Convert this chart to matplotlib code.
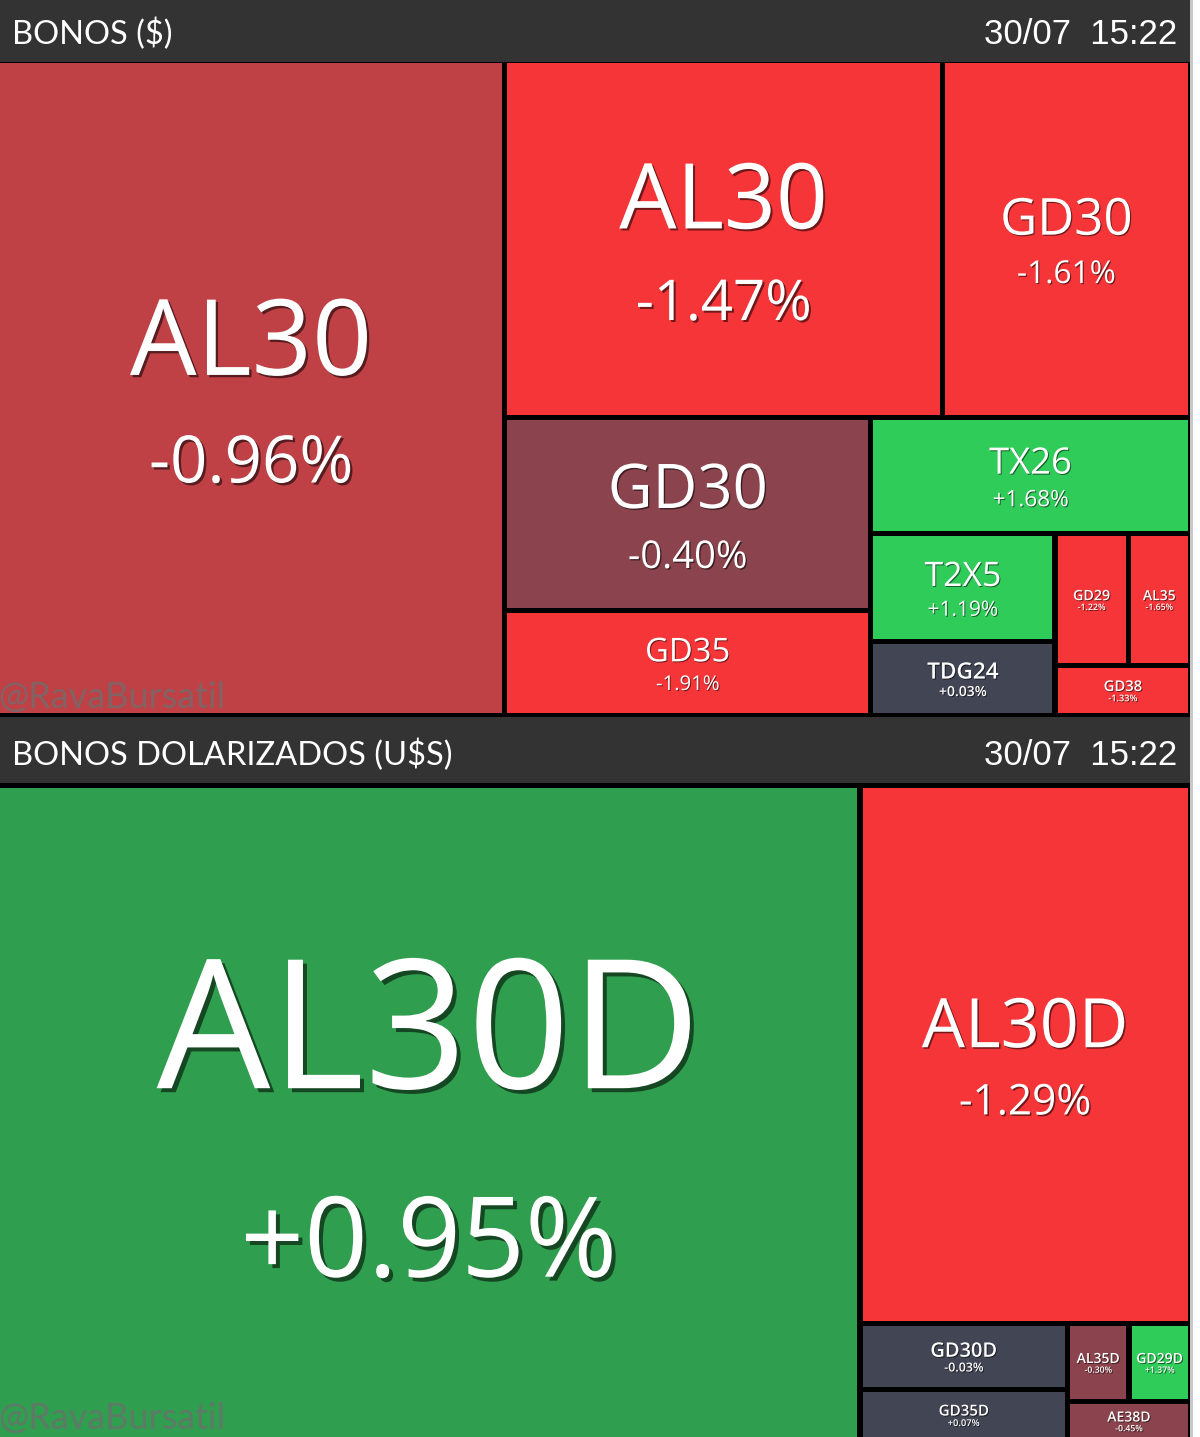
"""Treemap de bonos (Rava Bursatil) redibujado con matplotlib"""

import matplotlib.pyplot as plt
import matplotlib.patheffects as pe
from matplotlib.patches import Rectangle

# --- Datos -----------------------------------------------------------------
top_title = "BONOS ($)"
top_names = ["AL30", "AL30", "GD30", "GD30", "GD35", "TX26", "T2X5", "TDG24", "GD29", "AL35", "GD38"]
top_changes = [-0.96, -1.47, -1.61, -0.40, -1.91, 1.68, 1.19, 0.03, -1.22, -1.65, -1.33]
top_volume = [332.4, 156.4, 88.7, 70.5, 38.4, 37.1, 19.9, 13.6, 9.6, 8.2, 6.8]
top_strips = [1, 2, 2, 1, 2, 2, 1]

bottom_title = "BONOS DOLARIZADOS (U$S)"
bottom_names = ["AL30D", "AL30D", "GD30D", "GD35D", "AL35D", "GD29D", "AE38D"]
bottom_changes = [0.95, -1.29, -0.03, 0.07, -0.30, 1.37, -0.45]
bottom_volume = [564.9, 177.8, 13.7, 10.6, 4.8, 4.8, 4.8]
bottom_strips = [1, 1, 2, 2, 1]

stamp = "30/07  15:22"
watermark = "@RavaBursatil"

# escala de colores tipo finviz
RED3, RED2, RED1 = "#F63538", "#BF4045", "#8B444E"
GRN3, GRN2, GRN1 = "#30CC5A", "#2F9E4F", "#35764E"
NEUTRAL = "#414554"


def change_color(c):
    a = abs(c)
    if a < 0.1:
        return NEUTRAL
    if a < 0.5:
        return GRN1 if c > 0 else RED1
    if a < 1.0:
        return GRN2 if c > 0 else RED2
    return GRN3 if c > 0 else RED3


def strip_layout(weights, rect, strips):
    """Treemap por franjas alternadas: columna, fila, columna..."""
    x0, y0, x1, y1 = rect
    cells = []
    i = 0
    vertical = True
    for n in strips:
        group = weights[i:i + n]
        frac = sum(group) / sum(weights[i:])
        if vertical:
            sw = (x1 - x0) * frac
            yy = y0
            for g in group:
                hh = (y1 - y0) * g / sum(group)
                cells.append((x0, yy, x0 + sw, yy + hh))
                yy += hh
            x0 += sw
        else:
            sh = (y1 - y0) * frac
            xx = x0
            for g in group:
                ww = (x1 - x0) * g / sum(group)
                cells.append((xx, y0, xx + ww, y0 + sh))
                xx += ww
            y0 += sh
        i += n
        vertical = not vertical
    return cells


fig = plt.figure(figsize=(12, 14.37), dpi=100, facecolor="white")
ax = fig.add_axes([0, 0, 1, 1])
ax.set_xlim(0, 1200)
ax.set_ylim(1437, 0)
ax.axis("off")

ax.add_patch(Rectangle((0, 0), 1190, 1437, facecolor="black", linewidth=0, zorder=0))
ax.add_patch(Rectangle((1190, 0), 3, 1437, facecolor="#c8c8c8", linewidth=0, zorder=0))

GAP = 2.6


def draw_panel(title, names, changes, volume, strips, header_y, rect):
    ax.add_patch(Rectangle((0, header_y[0]), 1190, header_y[1] - header_y[0],
                           facecolor="#333333", linewidth=0, zorder=1))
    base = header_y[1] - 18
    ax.text(12, base, title, family="Lato", fontsize=23.5, color="white",
            va="baseline", ha="left", zorder=5)
    ax.text(1177, base, stamp, family="Liberation Sans", fontsize=25, color="white",
            va="baseline", ha="right", zorder=5)

    cells = strip_layout(volume, rect, strips)
    for (cx0, cy0, cx1, cy1), name, ch in zip(cells, names, changes):
        cx0, cy0, cx1, cy1 = cx0 + GAP, cy0 + GAP, cx1 - GAP, cy1 - GAP
        w, h = cx1 - cx0, cy1 - cy0
        ax.add_patch(Rectangle((cx0, cy0), w, h, facecolor=change_color(ch),
                               linewidth=0, zorder=2))
        # tamaño de letra segun la celda
        C = max(min(0.15 * w, 0.235 * h), 10)
        P = max(0.62 * C, 5.5)
        G = max(0.9 * C - 7, 0.35 * C)
        top = (cy0 + cy1) / 2 - (C + G + P) / 2 + 0.04 * C
        xc = (cx0 + cx1) / 2
        sh = max(0.7, C / 45)
        effects = [pe.SimplePatchShadow(offset=(sh, -sh), shadow_rgbFace="black", alpha=0.55),
                   pe.Normal()]
        weight = "semibold" if C < 20 else "normal"
        ax.text(xc, top + C, name, family="Open Sans", fontsize=C * 1.008,
                weight=weight, color="white", ha="center", va="baseline",
                zorder=4, path_effects=effects)
        ax.text(xc, top + C + G + P, f"{ch:+.2f}%", family="Open Sans",
                fontsize=P * 1.008, weight=weight, color="white", ha="center",
                va="baseline", zorder=4, path_effects=effects)

    ax.text(-2, min(rect[3], 1437) - 8, watermark, family="Lato", fontsize=26,
            color="#6e6e6e", alpha=0.75, ha="left", va="baseline", zorder=3)


draw_panel(top_title, top_names, top_changes, top_volume, top_strips,
           (0, 62), (-2.5, 60.5, 1190.5, 715.5))
draw_panel(bottom_title, bottom_names, bottom_changes, bottom_volume, bottom_strips,
           (717, 783), (-2.5, 785.5, 1190.5, 1440.5))

fig.savefig("out.png", dpi=100, facecolor="white")
plt.close(fig)
